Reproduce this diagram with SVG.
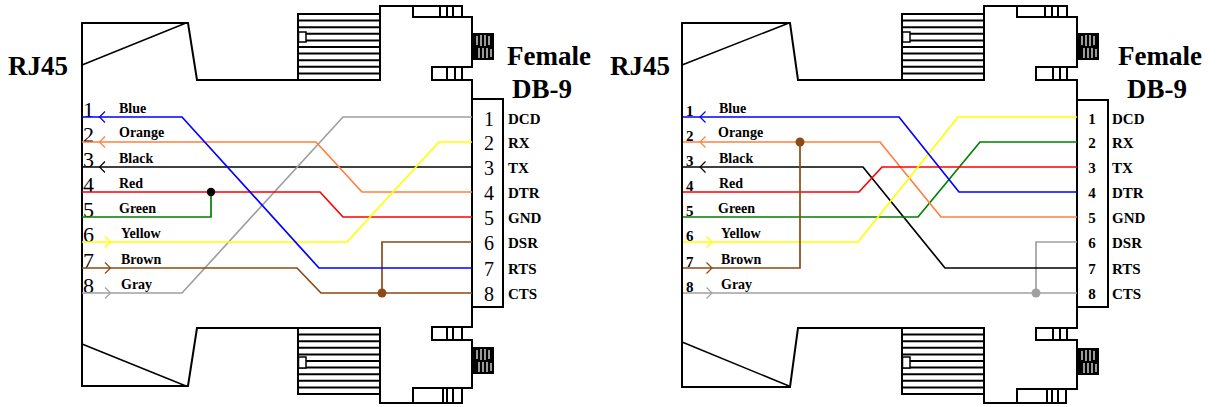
<svg xmlns="http://www.w3.org/2000/svg" xmlns:xlink="http://www.w3.org/1999/xlink" width="1217" height="407" viewBox="0 0 1217 407">
<style>
.ol{fill:none;stroke:#000;stroke-width:2}
.thin{fill:none;stroke:#000;stroke-width:1.5}
.fin{stroke:#000;stroke-width:2}
.nb{fill:#fff;stroke:#000;stroke-width:1.5}
.w{fill:none;stroke-width:1.7;stroke-linejoin:miter}
.ar{fill:none;stroke-width:1.2}
.title{font-family:"Liberation Serif","Times New Roman",serif;font-weight:bold;font-size:27px;fill:#000}
.lbl{font-family:"Liberation Serif","Times New Roman",serif;font-weight:bold;font-size:14px;fill:#000}
.num{font-family:"Liberation Serif","Times New Roman",serif;font-size:22px;fill:#000}
.numR{font-family:"Liberation Serif","Times New Roman",serif;font-weight:bold;font-size:15px;fill:#000}
.pin{font-family:"Liberation Serif","Times New Roman",serif;font-size:20px;fill:#000;text-anchor:middle}
.pinR{font-family:"Liberation Serif","Times New Roman",serif;font-weight:bold;font-size:15px;fill:#000;text-anchor:middle}
.sig{font-family:"Liberation Serif","Times New Roman",serif;font-weight:bold;font-size:15px;fill:#000}
.bl{stroke:#0000ff}.or{stroke:#ff8040}.bk{stroke:#000}.rd{stroke:#ff0000}.gn{stroke:#008000}.ye{stroke:#ffff00}.br{stroke:#8c4a14}.gy{stroke:#a0a0a0}
</style>
<defs>
<g id="screw">
<rect x="0" y="0" width="22" height="27" fill="#000"/>
<path d="M5,3V12M9,2V13M13,2V13M17,3V12M7,15V25M11,15V25M15,15V25M19,16V24" stroke="#fff" stroke-width="1.2"/>
</g>
<g id="fins">
<rect x="0" y="0" width="82" height="66" fill="#fff" stroke="#000" stroke-width="2"/>
<path d="M0,6.6H82M0,13.2H82M0,19.8H82M0,26.4H82M0,33H82M0,39.6H82M0,46.2H82M0,52.8H82M0,59.4H82" class="fin"/>
</g>
</defs>

<!-- ===================== LEFT DIAGRAM ===================== -->
<g id="left-rj45">
<path class="ol" d="M300,80H197L188,23H82V386H188L197,328H300"/>
<path class="thin" d="M82,65L186,23M82,344L186,386"/>
<text class="title" x="8" y="75">RJ45</text>
<text class="num" x="83" y="117">1</text>
<text class="num" x="83" y="142">2</text>
<text class="num" x="83" y="167">3</text>
<text class="num" x="83" y="192">4</text>
<text class="num" x="83" y="217">5</text>
<text class="num" x="83" y="242">6</text>
<text class="num" x="83" y="268">7</text>
<text class="num" x="83" y="293">8</text>
<text class="lbl" x="119" y="113">Blue</text>
<text class="lbl" x="119" y="137">Orange</text>
<text class="lbl" x="119" y="163">Black</text>
<text class="lbl" x="119" y="188">Red</text>
<text class="lbl" x="119" y="213">Green</text>
<text class="lbl" x="121" y="238">Yellow</text>
<text class="lbl" x="121" y="264">Brown</text>
<text class="lbl" x="121" y="289">Gray</text>
</g>

<g id="left-db9">
<use xlink:href="#fins" x="298" y="14"/>
<rect class="nb" x="298.5" y="32" width="7.5" height="10"/>
<use xlink:href="#fins" x="298" y="328"/>
<rect class="nb" x="298.5" y="357" width="7.5" height="11"/>
<path class="ol" d="M380,80V6H462V17H472V67H432V80H472V99"/>
<path class="ol" d="M413,6V17H462M440,6V17M447,6V17M453,6V17M447,67V80M455,67V80M462,67V80"/>
<use xlink:href="#screw" x="472" y="33"/>
<rect class="ol" x="472" y="99" width="31" height="208"/>
<path class="ol" d="M472,307V327H432V340H472V388H462V403H380V394"/>
<path class="ol" d="M413,403V388H462M443,388V403M447,388V403M453,388V403M447,327V340M453,327V340M462,327V340"/>
<use xlink:href="#screw" x="472" y="347"/>
<text class="title" x="507" y="65">Female</text>
<text class="title" x="512" y="98">DB-9</text>
<text class="pin" x="489" y="126">1</text>
<text class="pin" x="489" y="150">2</text>
<text class="pin" x="489" y="175">3</text>
<text class="pin" x="489" y="200">4</text>
<text class="pin" x="489" y="225">5</text>
<text class="pin" x="489" y="250">6</text>
<text class="pin" x="489" y="276">7</text>
<text class="pin" x="489" y="301">8</text>
<text class="sig" x="508" y="124">DCD</text>
<text class="sig" x="508" y="148">RX</text>
<text class="sig" x="508" y="173">TX</text>
<text class="sig" x="508" y="198">DTR</text>
<text class="sig" x="508" y="223">GND</text>
<text class="sig" x="508" y="248">DSR</text>
<text class="sig" x="508" y="274">RTS</text>
<text class="sig" x="508" y="299">CTS</text>
</g>

<g id="left-wires">
<polyline class="w bk" points="82,167 472,167"/>
<polyline class="w gy" points="82,293 182,293 343,117 472,117"/>
<polyline class="w or" points="82,142 316,142 362,192 472,192"/>
<polyline class="w rd" points="82,192 320,192 343,217 472,217"/>
<polyline class="w gn" points="82,217 211,217 211,192"/>
<polyline class="w ye" points="82,242 347,242 439,142 472,142"/>
<polyline class="w br" points="82,268 297,268 321,293 472,293"/>
<polyline class="w br" points="472,242 382,242 382,293"/>
<polyline class="w bl" points="82,117 182,117 319,268 472,268"/>
<circle cx="211" cy="192" r="4.2" fill="#000"/>
<circle cx="382" cy="293" r="4.5" fill="#8c4a14"/>
<path class="ar bl" d="M105,111.5L99.5,117L105,122.5"/>
<path class="ar or" d="M105,136.5L99.5,142L105,147.5"/>
<path class="ar bk" d="M105,161.5L99.5,167L105,172.5"/>
<path class="ar ye" d="M105,236.5L110.5,242L105,247.5"/>
<path class="ar br" d="M105,262.5L110.5,268L105,273.5"/>
<path class="ar gy" d="M105,287.5L110.5,293L105,298.5"/>
</g>

<!-- ===================== RIGHT DIAGRAM ===================== -->
<g id="right-rj45">
<path class="ol" d="M904,80H798L790,23H682V387H790L798,328H904"/>
<path class="thin" d="M682,65L789,23M682,342L789,386"/>
<text class="title" x="610" y="75">RJ45</text>
<text class="numR" x="686" y="116">1</text>
<text class="numR" x="686" y="141">2</text>
<text class="numR" x="686" y="166">3</text>
<text class="numR" x="686" y="191">4</text>
<text class="numR" x="686" y="216">5</text>
<text class="numR" x="686" y="241">6</text>
<text class="numR" x="686" y="267">7</text>
<text class="numR" x="686" y="292">8</text>
<text class="lbl" x="719" y="113">Blue</text>
<text class="lbl" x="718" y="137">Orange</text>
<text class="lbl" x="719" y="163">Black</text>
<text class="lbl" x="719" y="188">Red</text>
<text class="lbl" x="718" y="213">Green</text>
<text class="lbl" x="721" y="238">Yellow</text>
<text class="lbl" x="721" y="264">Brown</text>
<text class="lbl" x="721" y="289">Gray</text>
</g>

<g id="right-db9">
<use xlink:href="#fins" x="902" y="14"/>
<rect class="nb" x="902.5" y="32" width="7.5" height="10"/>
<use xlink:href="#fins" x="902" y="328"/>
<rect class="nb" x="902.5" y="357" width="7.5" height="11"/>
<path class="ol" d="M984,80V6H1067V17H1077V67H1036V80H1077V100"/>
<path class="ol" d="M1017,6V17H1067M1045,6V17M1052,6V17M1058,6V17M1053,67V80M1060,67V80M1067,67V80"/>
<use xlink:href="#screw" x="1077" y="33"/>
<rect class="ol" x="1077" y="100" width="31" height="207"/>
<path class="ol" d="M1077,307V328H1036V340H1077V389H1066V403H984V394"/>
<path class="ol" d="M1017,403V389H1066M1047,389V403M1052,389V403M1058,389V403M1053,328V340M1060,328V340M1067,328V340"/>
<use xlink:href="#screw" x="1077" y="348"/>
<text class="title" x="1118" y="65">Female</text>
<text class="title" x="1127" y="98">DB-9</text>
<text class="pinR" x="1092" y="124">1</text>
<text class="pinR" x="1092" y="148">2</text>
<text class="pinR" x="1092" y="173">3</text>
<text class="pinR" x="1092" y="198">4</text>
<text class="pinR" x="1092" y="223">5</text>
<text class="pinR" x="1092" y="248">6</text>
<text class="pinR" x="1092" y="274">7</text>
<text class="pinR" x="1092" y="299">8</text>
<text class="sig" x="1112" y="124">DCD</text>
<text class="sig" x="1112" y="148">RX</text>
<text class="sig" x="1112" y="173">TX</text>
<text class="sig" x="1112" y="198">DTR</text>
<text class="sig" x="1112" y="223">GND</text>
<text class="sig" x="1112" y="248">DSR</text>
<text class="sig" x="1112" y="274">RTS</text>
<text class="sig" x="1112" y="299">CTS</text>
</g>

<g id="right-wires">
<polyline class="w gy" points="683,293 1077,293"/>
<polyline class="w gy" points="1077,242 1036,242 1036,293"/>
<polyline class="w bk" points="683,167 863,167 945,268 1077,268"/>
<polyline class="w gn" points="683,217 918,217 980,142 1077,142"/>
<polyline class="w or" points="683,142 880,142 941,217 1077,217"/>
<polyline class="w rd" points="683,192 859,192 882,167 1077,167"/>
<polyline class="w ye" points="683,242 858,242 958,117 1077,117"/>
<polyline class="w bl" points="683,117 899,117 959,192 1077,192"/>
<polyline class="w br" points="683,268 800,268 800,142"/>
<circle cx="800" cy="142" r="4.5" fill="#8c4a14"/>
<circle cx="1036" cy="293" r="4.5" fill="#a0a0a0"/>
<path class="ar bl" d="M705.5,111.5L700,117L705.5,122.5"/>
<path class="ar or" d="M705.5,136.5L700,142L705.5,147.5"/>
<path class="ar bk" d="M705.5,161.5L700,167L705.5,172.5"/>
<path class="ar ye" d="M706.5,236.5L712,242L706.5,247.5"/>
<path class="ar br" d="M706.5,262.5L712,268L706.5,273.5"/>
<path class="ar gy" d="M706.5,287.5L712,293L706.5,298.5"/>
</g>
</svg>
